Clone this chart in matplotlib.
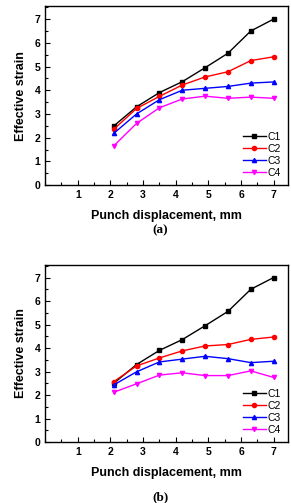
import numpy as np
import matplotlib.pyplot as plt
from matplotlib.ticker import MultipleLocator

# punch displacement (mm)
disp = [2.1, 2.8, 3.5, 4.2, 4.9, 5.6, 6.3, 7.0]

# panel (a) effective strain
a_c1 = [2.49, 3.30, 3.90, 4.36, 4.95, 5.56, 6.50, 7.00]
a_c2 = [2.35, 3.23, 3.74, 4.22, 4.56, 4.78, 5.25, 5.41]
a_c3 = [2.18, 3.00, 3.60, 4.00, 4.08, 4.16, 4.30, 4.35]
a_c4 = [1.65, 2.60, 3.26, 3.63, 3.75, 3.66, 3.71, 3.66]

# panel (b) effective strain
b_c1 = [2.50, 3.30, 3.90, 4.36, 4.95, 5.56, 6.50, 7.00]
b_c2 = [2.57, 3.24, 3.58, 3.88, 4.09, 4.15, 4.37, 4.47]
b_c3 = [2.43, 2.99, 3.41, 3.53, 3.65, 3.55, 3.38, 3.44]
b_c4 = [2.12, 2.48, 2.85, 2.95, 2.83, 2.83, 3.03, 2.75]

labels = ['C1', 'C2', 'C3', 'C4']
colors = ['black', 'red', 'blue', 'magenta']
markers = ['s', 'o', '^', 'v']

plt.rcParams['font.family'] = ['Liberation Sans', 'DejaVu Sans']

fig = plt.figure(figsize=(2.91, 5.03), dpi=100)


def draw_panel(ax, series):
    for ys, lab, col, mk in zip(series, labels, colors, markers):
        ax.plot(disp, ys, color=col, marker=mk, markersize=3.0,
                linewidth=1.0, label=lab)
    ax.set_xlim(0, 7.45)
    ax.set_ylim(0, 7.55)
    ax.xaxis.set_minor_locator(MultipleLocator(0.5))
    ax.yaxis.set_major_locator(MultipleLocator(1))
    ax.yaxis.set_minor_locator(MultipleLocator(0.5))
    ax.set_xticks([1, 2, 3, 4, 5, 6, 7])
    ax.tick_params(which='both', direction='in', top=False, right=False,
                   labelsize=7.5)
    ax.tick_params(which='major', length=3.5, width=0.8)
    ax.tick_params(which='minor', length=2, width=0.8)
    for lbl in ax.get_xticklabels() + ax.get_yticklabels():
        lbl.set_fontweight('bold')
    for sp in ax.spines.values():
        sp.set_linewidth(1.0)
    ax.set_ylabel('Effective strain', fontsize=9, fontweight='bold', labelpad=5)
    ax.set_xlabel('Punch displacement, mm', fontsize=9, fontweight='bold',
                  labelpad=7)
    ax.legend(loc='lower right', frameon=False, fontsize=7.5, handlelength=2.2,
              handletextpad=0.2, labelspacing=0.2, borderaxespad=0.3)
    return ax


ax1 = fig.add_axes([0.155, 0.632, 0.836, 0.356])
draw_panel(ax1, [a_c1, a_c2, a_c3, a_c4])
fig.text(0.55, 1 - 230 / 503, '(a)', ha='center', va='center',
         fontsize=9.5, fontweight='bold', family='Liberation Serif')

ax2 = fig.add_axes([0.155, 0.121, 0.836, 0.353])
draw_panel(ax2, [b_c1, b_c2, b_c3, b_c4])
fig.text(0.55, 1 - 497 / 503, '(b)', ha='center', va='center',
         fontsize=9.5, fontweight='bold', family='Liberation Serif')

fig.savefig('out.png', dpi=100)
